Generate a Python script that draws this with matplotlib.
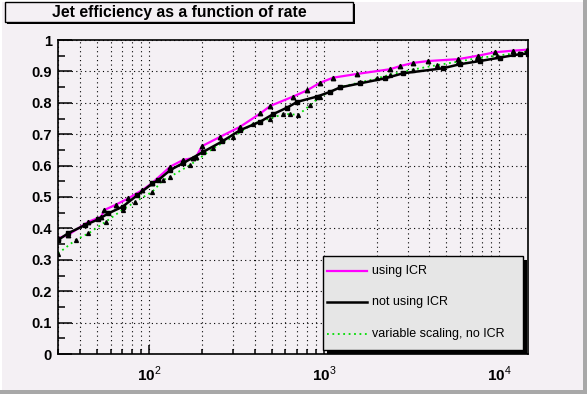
"""
Jet efficiency as a function of rate
====================================

ROOT-style canvas redrawn with matplotlib.
"""
import math

import matplotlib
matplotlib.use("Agg")
import matplotlib.pyplot as plt
from matplotlib.patches import Rectangle
from matplotlib.lines import Line2D
from matplotlib.ticker import MultipleLocator, LogLocator, FuncFormatter, NullFormatter

plt.rcParams['font.family'] = ['Liberation Sans', 'DejaVu Sans']
plt.rcParams['mathtext.fontset'] = 'custom'
plt.rcParams['mathtext.rm'] = 'Liberation Sans'
plt.rcParams['mathtext.bf'] = 'Liberation Sans:bold'

###############################################################################
# Data
icr_rate = [30, 34.4, 44.8, 53, 55, 64, 75.9, 91.2, 104, 131.8, 156, 177, 185,
            200, 254.7, 331, 431, 491, 665, 800, 948, 1125, 1544, 2385, 2719,
            3226, 3930, 5834, 7586, 9490, 12030, 14450]
icr_eff = [0.368, 0.38, 0.421, 0.437, 0.458, 0.475, 0.496, 0.522, 0.545, 0.597,
           0.618, 0.624, 0.628, 0.662, 0.692, 0.724, 0.766, 0.79, 0.82, 0.84,
           0.864, 0.88, 0.892, 0.907, 0.917, 0.927, 0.933, 0.939, 0.95, 0.961,
           0.966, 0.969]

noicr_rate = [30, 34.4, 43, 51.1, 58.3, 70.2, 85.4, 104, 112.5, 131.8, 156,
              203.5, 261, 331, 431, 511, 615, 701, 912, 1082, 1233, 1606, 2233,
              2827, 4790, 5990, 7780, 10130, 13190, 14650]
noicr_eff = [0.363, 0.385, 0.411, 0.429, 0.448, 0.469, 0.506, 0.543, 0.554,
             0.586, 0.608, 0.644, 0.677, 0.713, 0.74, 0.764, 0.785, 0.803, 0.82,
             0.835, 0.849, 0.862, 0.878, 0.894, 0.91, 0.923, 0.933, 0.944,
             0.955, 0.957]

var_rate = [30, 37.8, 44.8, 56.1, 70.2, 83.2, 104, 120, 131.8, 171, 232, 302,
            393, 491, 583, 640, 710, 832, 948, 1233, 1600, 2010, 2385, 3226,
            4424, 5834, 7487, 9750, 12030, 14450]
var_eff = [0.32, 0.363, 0.384, 0.421, 0.459, 0.485, 0.517, 0.554, 0.565, 0.602,
           0.655, 0.692, 0.734, 0.75, 0.764, 0.764, 0.761, 0.793, 0.82, 0.85,
           0.865, 0.878, 0.89, 0.906, 0.92, 0.931, 0.942, 0.95, 0.957, 0.966]

labels = ['using ICR', 'not using ICR', 'variable scaling, no ICR']

###############################################################################
# Canvas
W, H = 587, 394
bg = '#f4f0f4'


def fx(x):
    return x / W


def fy(y):
    return 1 - y / H


fig = plt.figure(figsize=(W / 100, H / 100), dpi=100, facecolor=bg)

# bevel of the ROOT canvas
bevel = dict(transform=fig.transFigure, edgecolor='none', zorder=-1)
fig.patches.append(Rectangle((fx(583), 0), fx(4), 1, facecolor='#a8a8a8', **bevel))
fig.patches.append(Rectangle((0, 0), 1, 4 / H, facecolor='#a8a8a8', **bevel))
fig.patches.append(Rectangle((0, 4 / H), fx(2), 1, facecolor='white', **bevel))
fig.patches.append(Rectangle((0, fy(2)), fx(583), 2 / H, facecolor='white', **bevel))

ax = fig.add_axes([fx(58), fy(354), fx(528 - 58), fy(40) - fy(354)])
ax.set_facecolor(bg)

###############################################################################
# Curves
green = '#00dd00'
ax.plot(icr_rate, icr_eff, color='#ff00ff', lw=1.6, marker='^', ms=3.2,
        mfc='black', mec='black', zorder=3)
ax.plot(noicr_rate, noicr_eff, color='black', lw=1.8, marker='s', ms=3.2,
        mfc='black', mec='black', zorder=4)
ax.plot(var_rate, var_eff, color=green, lw=1.3, ls=(0, (1, 2)),
        marker='^', ms=2.8, mfc='black', mec='black', zorder=2)

ax.set_xscale('log')
ax.set_xlim(30, 14650)
ax.set_ylim(0, 1)

ax.yaxis.set_major_locator(MultipleLocator(0.1))
ax.yaxis.set_minor_locator(MultipleLocator(0.05))
ax.yaxis.set_major_formatter(FuncFormatter(lambda v, p: '%g' % round(v, 2)))
ax.xaxis.set_major_locator(LogLocator(base=10, numticks=10))
ax.xaxis.set_minor_locator(LogLocator(base=10, subs=range(2, 10), numticks=20))
ax.xaxis.set_major_formatter(
    FuncFormatter(lambda v, p: r'$\mathbf{10}^{%d}$' % round(math.log10(v))))
ax.xaxis.set_minor_formatter(NullFormatter())

ax.tick_params(axis='y', which='major', direction='in', length=10, width=1.1,
               pad=4.5, labelsize=10.5)
ax.tick_params(axis='y', which='minor', direction='in', length=5, width=1.1)
ax.tick_params(axis='x', which='major', direction='in', length=6.5, width=1.1,
               pad=8, labelsize=11)
ax.tick_params(axis='x', which='minor', direction='in', length=3.8, width=1.1)
for lab in ax.get_yticklabels():
    lab.set_fontweight('bold')

ax.grid(axis='x', which='both', color='black', ls=(0, (1, 3)), lw=0.8)
ax.grid(axis='y', which='major', color='black', ls=(0, (1, 3)), lw=0.8)
for s in ax.spines.values():
    s.set_linewidth(1.2)

###############################################################################
# Title box
fig.patches.append(Rectangle((fx(7), fy(24)), fx(348), fy(4) - fy(24),
                             transform=fig.transFigure, facecolor='black',
                             edgecolor='none', zorder=5))
fig.patches.append(Rectangle((fx(5), fy(22)), fx(348), fy(2) - fy(22),
                             transform=fig.transFigure, facecolor=bg,
                             edgecolor='black', lw=1, zorder=6))
fig.text(fx(179), fy(12.5), 'Jet efficiency as a function of rate',
         ha='center', va='center', fontsize=11.3, fontweight='bold', zorder=7)

###############################################################################
# Legend box
fig.patches.append(Rectangle((fx(327), fy(354)), fx(200), fy(260) - fy(354),
                             transform=fig.transFigure, facecolor='black',
                             edgecolor='none', zorder=5))
fig.patches.append(Rectangle((fx(323), fy(350)), fx(200), fy(256) - fy(350),
                             transform=fig.transFigure, facecolor='#e6e6e6',
                             edgecolor='black', lw=1, zorder=6))
styles = [dict(color='#ff00ff', lw=1.6), dict(color='black', lw=1.8),
          dict(color=green, lw=1.3, ls=(0, (1, 2)))]
for lab, st, yy in zip(labels, styles, [271, 302, 334]):
    fig.lines.append(Line2D([fx(327), fx(367)], [fy(yy), fy(yy)],
                            transform=fig.transFigure, zorder=7, **st))
    fig.text(fx(372), fy(yy), lab, ha='left', va='center', fontsize=9,
             zorder=7)

fig.savefig('out.png', dpi=100, facecolor=bg)
